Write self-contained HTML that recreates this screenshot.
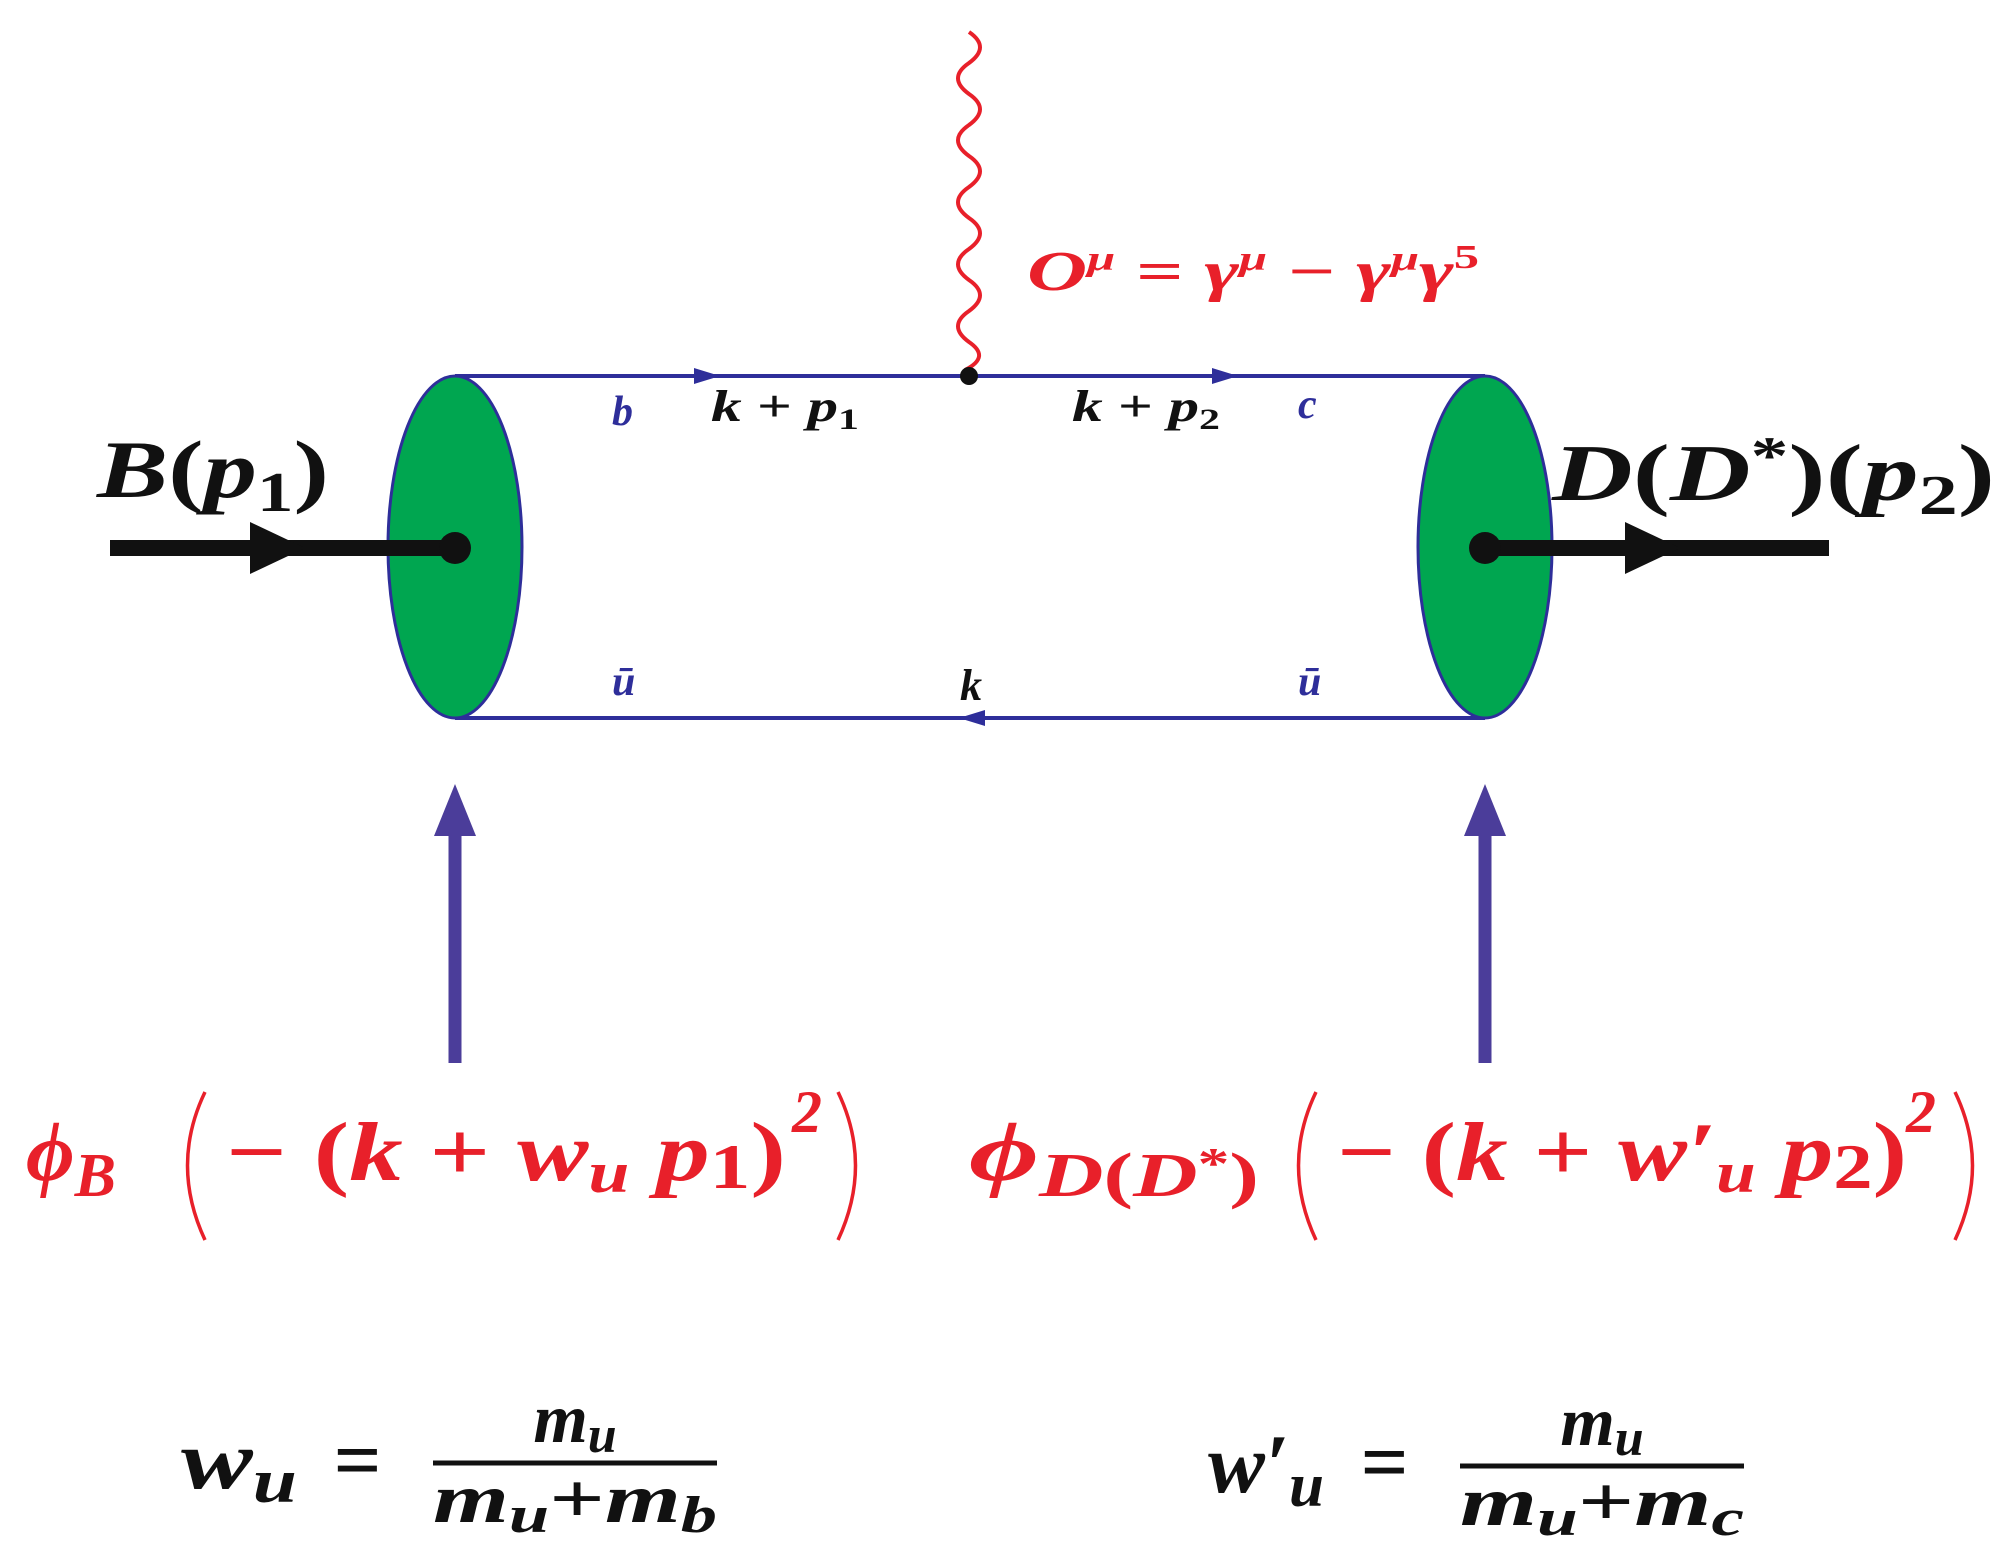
<!DOCTYPE html>
<html><head><meta charset="utf-8"><style>
html,body{margin:0;padding:0;background:#fff;width:2015px;height:1549px;overflow:hidden}
svg{display:block}
text{font-family:"Liberation Serif",serif;font-style:italic;font-weight:bold}
</style></head><body>
<svg width="2015" height="1549" viewBox="0 0 2015 1549" xmlns="http://www.w3.org/2000/svg">
<path d="M969,32 q22,15 0,31 q-22,15 0,31 q22,15 0,31 q-22,15 0,31 q22,15 0,31 q-22,15 0,31 q22,15 0,31 q-22,15 0,31 q22,15 0,31 q-22,15 0,31 q22,15 -4,28" fill="none" stroke="#e8202a" stroke-width="4"/>
<line x1="455" y1="376" x2="1485" y2="376" stroke="#2e2e9a" stroke-width="4"/>
<line x1="455" y1="718" x2="1485" y2="718" stroke="#2e2e9a" stroke-width="4"/>
<polygon points="694,368 720,376 694,384" fill="#2e2e9a"/>
<polygon points="1212,368 1238,376 1212,384" fill="#2e2e9a"/>
<polygon points="985,710 959,718 985,726" fill="#2e2e9a"/>
<circle cx="969" cy="376" r="9" fill="#111"/>
<ellipse cx="455" cy="547" rx="67" ry="171" fill="#00a650" stroke="#2e2e9a" stroke-width="3"/>
<ellipse cx="1485" cy="547" rx="67" ry="171" fill="#00a650" stroke="#2e2e9a" stroke-width="3"/>
<line x1="110" y1="548" x2="455" y2="548" stroke="#111" stroke-width="16"/>
<polygon points="250,522 305,548 250,574" fill="#111"/>
<circle cx="455" cy="548" r="16" fill="#111"/>
<line x1="1485" y1="548" x2="1829" y2="548" stroke="#111" stroke-width="16"/>
<polygon points="1625,522 1680,548 1625,574" fill="#111"/>
<circle cx="1485" cy="548" r="16" fill="#111"/>
<line x1="455" y1="1063" x2="455" y2="830" stroke="#4b3d9a" stroke-width="13"/>
<polygon points="434,836 455,784 476,836" fill="#4b3d9a"/>
<line x1="1485" y1="1063" x2="1485" y2="830" stroke="#4b3d9a" stroke-width="13"/>
<polygon points="1464,836 1485,784 1506,836" fill="#4b3d9a"/>

<text x="97" y="497" font-size="82" fill="#111" textLength="232" lengthAdjust="spacingAndGlyphs">B<tspan font-style="normal">(</tspan>p<tspan font-size="56" font-style="normal" dy="14">1</tspan><tspan font-style="normal" dy="-14">)</tspan></text>
<text x="1552" y="500" font-size="80" fill="#111" textLength="443" lengthAdjust="spacingAndGlyphs">D<tspan font-style="normal">(</tspan>D<tspan font-style="normal" font-size="54" dy="-26">*</tspan><tspan font-style="normal" dy="26">)(</tspan>p<tspan font-size="56" font-style="normal" dy="14">2</tspan><tspan font-style="normal" dy="-14">)</tspan></text>
<text x="1027" y="290" font-size="56" fill="#e8202a" textLength="452" lengthAdjust="spacingAndGlyphs">O<tspan font-size="34" dy="-20">μ</tspan><tspan dy="20" font-style="normal"> = </tspan>γ<tspan font-size="34" dy="-20">μ</tspan><tspan dy="20" font-style="normal"> − </tspan>γ<tspan font-size="34" dy="-20">μ</tspan><tspan dy="20">γ</tspan><tspan font-size="34" dy="-22" font-style="normal">5</tspan></text>
<text x="612" y="425" font-size="42" fill="#2e2e9a" font-style="normal" font-weight="normal">b</text>
<text x="1298" y="418" font-size="42" fill="#2e2e9a" font-style="normal" font-weight="normal">c</text>
<text x="612" y="695" font-size="42" fill="#2e2e9a" font-style="normal" font-weight="normal">ū</text>
<text x="1298" y="695" font-size="42" fill="#2e2e9a" font-style="normal" font-weight="normal">ū</text>
<text x="711" y="421" font-size="44" fill="#111" textLength="148" lengthAdjust="spacingAndGlyphs">k <tspan font-style="normal">+</tspan> p<tspan font-size="30" font-style="normal" dy="8">1</tspan></text>
<text x="1072" y="421" font-size="44" fill="#111" textLength="148" lengthAdjust="spacingAndGlyphs">k <tspan font-style="normal">+</tspan> p<tspan font-size="30" font-style="normal" dy="8">2</tspan></text>
<text x="960" y="700" font-size="44" fill="#111">k</text>

<!-- phi_B -->
<text x="26" y="1180" font-size="84" fill="#e8202a">ϕ<tspan font-size="62" dy="16">B</tspan></text>
<path d="M205,1092 Q170,1165 205,1240" fill="none" stroke="#e8202a" stroke-width="3.5"/>
<text x="226" y="1180" font-size="84" fill="#e8202a" textLength="560" lengthAdjust="spacingAndGlyphs"><tspan font-style="normal">− (</tspan>k<tspan font-style="normal"> + </tspan>w<tspan font-size="58" dy="12">u</tspan><tspan dy="-12"> p</tspan><tspan font-size="64" font-style="normal" dy="8">1</tspan><tspan font-style="normal" dy="-8">)</tspan></text>
<text x="792" y="1132" font-size="60" fill="#e8202a" font-style="normal">2</text>
<path d="M838,1092 Q873,1165 838,1240" fill="none" stroke="#e8202a" stroke-width="3.5"/>

<!-- phi_D -->
<text x="969" y="1180" font-size="84" fill="#e8202a" textLength="290" lengthAdjust="spacingAndGlyphs">ϕ<tspan font-size="62" dy="16">D</tspan><tspan font-size="62" font-style="normal">(</tspan><tspan font-size="62">D</tspan><tspan font-size="44" font-style="normal" dy="-18">*</tspan><tspan font-size="62" font-style="normal" dy="18">)</tspan></text>
<path d="M1316,1092 Q1281,1165 1316,1240" fill="none" stroke="#e8202a" stroke-width="3.5"/>
<text x="1337" y="1180" font-size="84" fill="#e8202a" textLength="570" lengthAdjust="spacingAndGlyphs"><tspan font-style="normal">− (</tspan>k<tspan font-style="normal"> + </tspan>w′<tspan font-size="58" dy="12">u</tspan><tspan dy="-12"> p</tspan><tspan font-size="64" font-style="normal" dy="8">2</tspan><tspan font-style="normal" dy="-8">)</tspan></text>
<text x="1906" y="1132" font-size="60" fill="#e8202a" font-style="normal">2</text>
<path d="M1955,1092 Q1990,1165 1955,1240" fill="none" stroke="#e8202a" stroke-width="3.5"/>

<!-- bottom fractions -->
<text x="181" y="1488" font-size="84" fill="#111" textLength="116" lengthAdjust="spacingAndGlyphs">w<tspan font-size="62" dy="14">u</tspan></text>
<text x="333" y="1488" font-size="84" fill="#111" font-style="normal">=</text>
<line x1="433" y1="1463" x2="717" y2="1463" stroke="#111" stroke-width="5"/>
<text x="575" y="1442" font-size="70" fill="#111" text-anchor="middle">m<tspan font-size="52" dy="10">u</tspan></text>
<text x="433" y="1522" font-size="70" fill="#111" textLength="284" lengthAdjust="spacingAndGlyphs">m<tspan font-size="52" dy="10">u</tspan><tspan dy="-10" font-style="normal">+</tspan>m<tspan font-size="52" dy="10">b</tspan></text>
<text x="1208" y="1492" font-size="84" fill="#111" textLength="116" lengthAdjust="spacingAndGlyphs">w′<tspan font-size="62" dy="14">u</tspan></text>
<text x="1360" y="1490" font-size="84" fill="#111" font-style="normal">=</text>
<line x1="1460" y1="1466" x2="1744" y2="1466" stroke="#111" stroke-width="5"/>
<text x="1602" y="1445" font-size="70" fill="#111" text-anchor="middle">m<tspan font-size="52" dy="10">u</tspan></text>
<text x="1460" y="1525" font-size="70" fill="#111" textLength="284" lengthAdjust="spacingAndGlyphs">m<tspan font-size="52" dy="10">u</tspan><tspan dy="-10" font-style="normal">+</tspan>m<tspan font-size="52" dy="10">c</tspan></text>
</svg>
</body></html>
